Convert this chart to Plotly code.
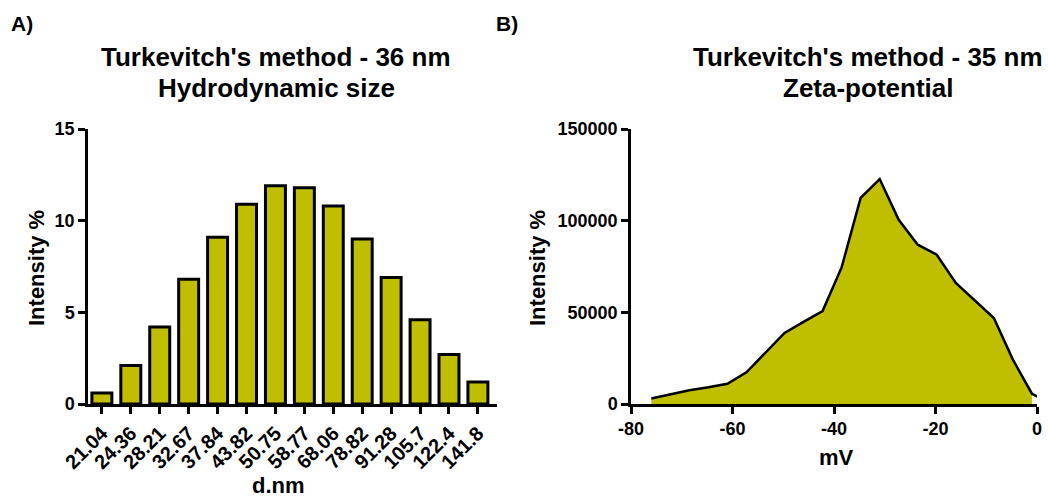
import plotly.graph_objects as go

# ---- Data ----
size_labels = ["21.04", "24.36", "28.21", "32.67", "37.84", "43.82", "50.75",
               "58.77", "68.06", "78.82", "91.28", "105.7", "122.4", "141.8"]
size_intensity = [0.6, 2.1, 4.2, 6.8, 9.1, 10.9, 11.9, 11.8, 10.8, 9.0, 6.9, 4.6, 2.7, 1.2]

zeta_mv = [-76, -72.25, -68.5, -64.75, -61, -57.25, -53.5, -49.75, -46, -42.25, -38.5,
           -34.75, -31, -27.25, -23.5, -19.75, -16, -12.25, -8.5, -4.75, -1, 2.75]
zeta_intensity = [3000, 5300, 7500, 9100, 11000, 17300, 28000, 38800, 44800, 50700, 74500,
                  112400, 122700, 100500, 86900, 81400, 66000, 56400, 46900, 24200, 5600, 300]

mv_ticks = [-80, -60, -40, -20, 0]
mv_ticktext = ["-80", "-60", "-40", "-20", "0"]
size_ticks = [0, 5, 10, 15]
zeta_ticks = [0, 50000, 100000, 150000]

left_title = ["Turkevitch's method - 36 nm", "Hydrodynamic size"]
right_title = ["Turkevitch's method - 35 nm", "Zeta-potential"]

FILL = "#BFBF00"
FONT = "Liberation Sans, Arial, sans-serif"
W, H = 1048, 497

fig = go.Figure()

fig.add_trace(go.Bar(
    x=size_labels, y=size_intensity, xaxis="x", yaxis="y",
    marker=dict(color=FILL, line=dict(color="black", width=3)),
    showlegend=False,
))

# filled area (stops at last measured point inside the range)
fig.add_trace(go.Scatter(
    x=zeta_mv[:-1], y=zeta_intensity[:-1], xaxis="x2", yaxis="y2",
    mode="none", fill="tozeroy", fillcolor=FILL, showlegend=False,
))
fig.add_trace(go.Scatter(
    x=zeta_mv, y=zeta_intensity, xaxis="x2", yaxis="y2",
    mode="lines", line=dict(color="black", width=2.5), showlegend=False,
))

def px_x(v):
    return v / W

def px_y(v):
    return 1 - v / H

def axis_common(size=18):
    return dict(
        showline=True, linecolor="black", linewidth=2.5,
        ticks="outside", ticklen=7, tickwidth=2.5, tickcolor="black",
        showgrid=False, zeroline=False, automargin=False,
        tickfont=dict(family=FONT, size=size, color="black", weight="bold"),
    )

fig.update_layout(
    template="none",
    width=W, height=H,
    margin=dict(l=0, r=0, t=0, b=0, pad=0),
    paper_bgcolor="white", plot_bgcolor="white",
    bargap=0.31,
    xaxis=dict(domain=[px_x(88), px_x(497)], anchor="y", type="category",
               range=[-0.48, 13.66], tickangle=-45, **axis_common(20)),
    yaxis=dict(domain=[px_y(404), px_y(129)], anchor="x", range=[0, 15],
               tickvals=size_ticks, **axis_common()),
    xaxis2=dict(domain=[px_x(631), px_x(1037)], anchor="y2", range=[-80, 0],
                tickvals=mv_ticks, ticktext=mv_ticktext, **axis_common()),
    yaxis2=dict(domain=[px_y(404), px_y(129)], anchor="x2", range=[0, 150000],
                tickvals=zeta_ticks, tickformat="d", **axis_common()),
)

ann = []
def text(t, x, y, size, angle=0):
    ann.append(dict(text=t, x=px_x(x), y=px_y(y), xref="paper", yref="paper",
                    xanchor="center", yanchor="middle", showarrow=False, textangle=angle,
                    font=dict(family=FONT, size=size, color="black", weight="bold")))

text("A)", 22, 24, 21)
text("B)", 507, 24, 21)
text(left_title[0], 276, 57, 26)
text(left_title[1], 276, 88, 26)
text(right_title[0], 868, 57, 26)
text(right_title[1], 868, 88, 26)
text("Intensity %", 36, 268, 22, -90)
text("Intensity %", 537, 268, 22, -90)
text("d.nm", 278, 485, 22)
text("mV", 836, 457, 22)

fig.update_layout(annotations=ann)

fig.write_html(
    "out.html",
    config={"displayModeBar": False},
    post_script="document.body.style.margin='0';document.body.style.overflow='hidden';",
)
